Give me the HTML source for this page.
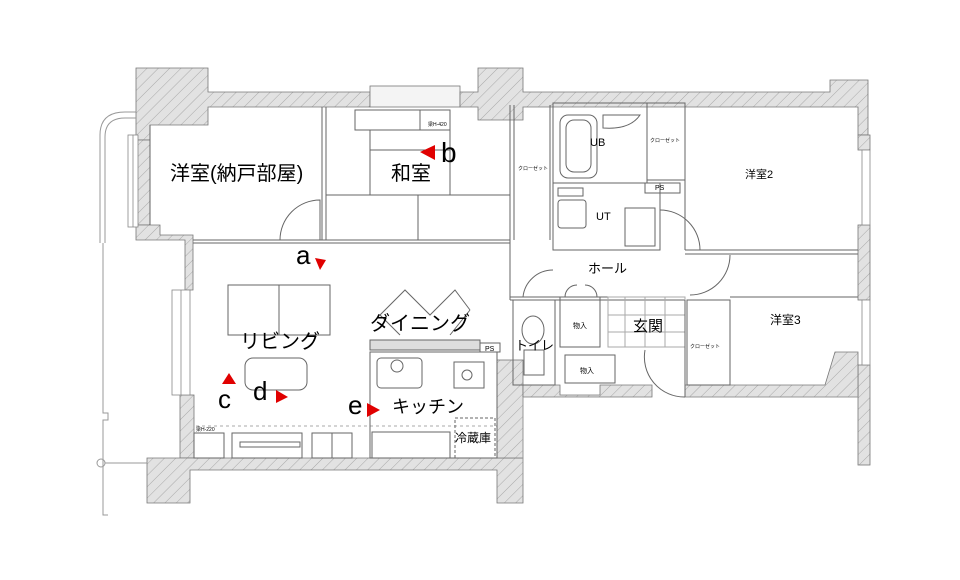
<!DOCTYPE html>
<html><head><meta charset="utf-8"><style>
html,body{margin:0;padding:0;background:#fff;}
svg{display:block;}
text{font-family:"Liberation Sans","Noto Sans CJK JP",sans-serif;fill:#000;}
</style></head><body>
<svg width="960" height="580" viewBox="0 0 960 580" xmlns="http://www.w3.org/2000/svg">
<defs>
<pattern id="h" width="8" height="8" patternUnits="userSpaceOnUse" patternTransform="rotate(45)">
<rect width="8" height="8" fill="#e2e2e2"/><line x1="0" y1="0" x2="0" y2="8" stroke="#999" stroke-width="0.8"/>
</pattern>
</defs>
<g stroke="#777" stroke-width="0.8" fill="url(#h)">
<path d="M136 68 H208 V92 H370 V107 H208 V125 H150 V140 H136 Z"/>
<rect x="370" y="86" width="90" height="21" fill="#f4f4f4"/>
<path d="M460 92 H478 V68 H523 V92 H830 V80 H868 V135 H858 V107 H523 V120 H478 V107 H460 Z"/>
<rect x="858" y="135" width="12" height="15"/>
<rect x="858" y="225" width="12" height="75"/>
<rect x="858" y="365" width="12" height="100"/>
<rect x="136" y="140" width="14" height="85"/>
<path d="M136 225 H160 V235 H193 V290 H185 V240 H136 Z"/>
<rect x="180" y="395" width="14" height="63"/>
<path d="M147 458 H523 V503 H497 V470 H190 V503 H147 Z"/>
<rect x="497" y="360" width="26" height="98"/>
<path d="M523 385 H560 V395 H600 V385 H652 V397 H523 Z"/>
<path d="M685 385 H825 L835 352 H858 V397 H685 Z"/>
</g>
<g stroke="#999" stroke-width="0.8" fill="none">
<path d="M523 397 V480"/>
<path d="M685 397 H858"/>
</g>
<g stroke="#888" stroke-width="0.8" fill="#fff">
<rect x="128" y="135" width="10" height="92"/>
<line x1="133" y1="135" x2="133" y2="227"/>
<rect x="172" y="290" width="18" height="105"/>
<line x1="181" y1="290" x2="181" y2="395"/>
<rect x="862" y="150" width="8" height="75"/>
<rect x="862" y="300" width="8" height="65"/>
</g>
<g stroke="#999" stroke-width="1" fill="none">
<path d="M100 243 V135 Q100 112 125 112 H136"/>
<path d="M105 243 V137 Q105 118 125 118 H136"/>
<path d="M103 243 V413 H108 V420 H103 V515 H108"/>
<circle cx="101" cy="463" r="4"/>
<line x1="105" y1="463" x2="147" y2="463"/>
</g>
<g stroke="#666" stroke-width="1" fill="none">
<line x1="150" y1="125" x2="150" y2="225"/>
<line x1="193" y1="240" x2="510" y2="240"/>
<line x1="193" y1="243" x2="510" y2="243"/>
<line x1="322" y1="107" x2="322" y2="240"/>
<line x1="326" y1="107" x2="326" y2="240"/>
<path d="M320 240 V200 A40 40 0 0 0 280 240"/>
<rect x="355" y="110" width="65" height="20"/>
<rect x="420" y="110" width="30" height="20"/>
<line x1="370" y1="130" x2="370" y2="195"/>
<line x1="450" y1="130" x2="450" y2="195"/>
<line x1="370" y1="150" x2="450" y2="150"/>
<line x1="326" y1="195" x2="510" y2="195"/>
<line x1="418" y1="195" x2="418" y2="240"/>
<line x1="510" y1="105" x2="510" y2="300"/>
<line x1="514" y1="105" x2="514" y2="240"/>
<line x1="550" y1="105" x2="550" y2="240"/>
<rect x="553" y="103" width="94" height="80"/>
<rect x="560" y="115" width="37" height="63" rx="8"/>
<rect x="566" y="120" width="25" height="52" rx="8"/>
<path d="M603 115 H640 Q630 130 603 128 Z"/>
<rect x="553" y="183" width="107" height="67"/>
<rect x="558" y="188" width="25" height="8"/>
<rect x="558" y="200" width="28" height="28" rx="3"/>
<rect x="625" y="208" width="30" height="38"/>
<rect x="647" y="103" width="38" height="77"/>
<rect x="645" y="183" width="35" height="10"/>
<line x1="660" y1="183" x2="660" y2="250"/>
<path d="M660 210 A40 40 0 0 1 700 250"/>
<line x1="685" y1="250" x2="858" y2="250"/>
<line x1="685" y1="254" x2="858" y2="254"/>
<line x1="685" y1="107" x2="685" y2="250"/>
<path d="M730 255 A40 40 0 0 1 690 295"/>
<line x1="510" y1="297" x2="685" y2="297"/>
<line x1="510" y1="300" x2="685" y2="300"/>
<rect x="513" y="300" width="42" height="85"/>
<ellipse cx="533" cy="330" rx="11" ry="14"/>
<rect x="524" y="350" width="20" height="25"/>
<path d="M523 297 A30 30 0 0 1 553 270"/>
<rect x="560" y="297" width="40" height="50"/>
<path d="M565 297 A12 12 0 0 1 577 285 M597 297 A12 12 0 0 0 585 285"/>
<rect x="565" y="355" width="50" height="28"/>
<rect x="608" y="297" width="77" height="50" stroke="#aaa"/>
<line x1="625" y1="297" x2="625" y2="347" stroke="#aaa"/>
<line x1="645" y1="297" x2="645" y2="347" stroke="#aaa"/>
<line x1="665" y1="297" x2="665" y2="347" stroke="#aaa"/>
<line x1="608" y1="315" x2="685" y2="315" stroke="#aaa"/>
<line x1="608" y1="332" x2="685" y2="332" stroke="#aaa"/>
<path d="M645 350 A40 40 0 0 0 685 397"/>
<line x1="685" y1="300" x2="685" y2="397"/>
<rect x="687" y="300" width="43" height="85"/>
<line x1="730" y1="297" x2="858" y2="297"/>
<rect x="228" y="285" width="102" height="50"/>
<line x1="279" y1="285" x2="279" y2="335"/>
<rect x="245" y="358" width="62" height="32" rx="8"/>
<line x1="196" y1="426" x2="497" y2="426" stroke-dasharray="3 3" stroke="#aaa"/>
<rect x="194" y="433" width="30" height="25"/>
<rect x="232" y="433" width="70" height="25"/>
<rect x="240" y="442" width="60" height="5"/>
<rect x="312" y="433" width="40" height="25"/>
<line x1="332" y1="433" x2="332" y2="458"/>
<path d="M380 315 L405 290 L430 315 L455 290 L470 310 M380 315 L400 335 M470 310 L450 335"/>
<rect x="370" y="340" width="110" height="10" fill="#ddd"/>
<rect x="480" y="343" width="20" height="9"/>
<rect x="370" y="352" width="127" height="106"/>
<rect x="377" y="358" width="45" height="30" rx="4"/>
<circle cx="397" cy="366" r="6"/>
<rect x="454" y="362" width="30" height="26"/>
<circle cx="467" cy="375" r="5"/>
<rect x="372" y="432" width="78" height="26"/>
<rect x="455" y="418" width="40" height="40" stroke-dasharray="3 2"/>
</g>
<g>
<text x="170" y="180" font-size="20">洋室(納戸部屋)</text>
<text x="391" y="180" font-size="20">和室</text>
<text x="441" y="162" font-size="28">b</text>
<text x="296" y="264" font-size="26">a</text>
<text x="240" y="348" font-size="20">リビング</text>
<text x="370" y="330" font-size="20">ダイニング</text>
<text x="218" y="408" font-size="26">c</text>
<text x="253" y="400" font-size="26">d</text>
<text x="348" y="414" font-size="26">e</text>
<text x="392" y="413" font-size="18">キッチン</text>
<text x="455" y="442" font-size="12">冷蔵庫</text>
<text x="588" y="273" font-size="13">ホール</text>
<text x="633" y="331" font-size="15">玄関</text>
<text x="515" y="350" font-size="13">トイレ</text>
<text x="745" y="178" font-size="11">洋室2</text>
<text x="770" y="324" font-size="12">洋室3</text>
<text x="590" y="146" font-size="11">UB</text>
<text x="596" y="220" font-size="11">UT</text>
<text x="655" y="190" font-size="7">PS</text>
<text x="485" y="351" font-size="7">PS</text>
<text x="573" y="328" font-size="7">物入</text>
<text x="580" y="373" font-size="7">物入</text>
<text x="650" y="142" font-size="5">クローゼット</text>
<text x="518" y="170" font-size="5">クローゼット</text>
<text x="690" y="348" font-size="5">クローゼット</text>
<text x="428" y="126" font-size="5">梁H-420</text>
<text x="196" y="431" font-size="5">梁H-220</text>
</g>
<g fill="#e00000">
<polygon points="420,152 435,145 435,160"/>
<polygon points="315,258 326,260 320,270"/>
<polygon points="222,384 236,384 229,373"/>
<polygon points="276,390 276,403 288,397"/>
<polygon points="367,403 367,417 380,410"/>
</g>
</svg>
</body></html>
